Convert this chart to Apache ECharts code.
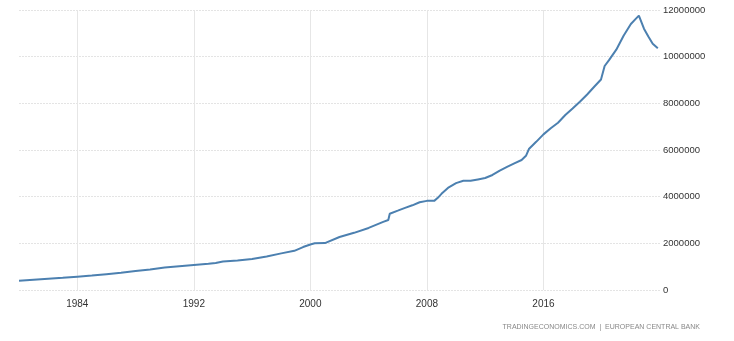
<!DOCTYPE html>
<html>
<head>
<meta charset="utf-8">
<script src="https://cdn.jsdelivr.net/npm/echarts@6/dist/echarts.min.js"></script>
<style>
html,body{margin:0;padding:0;background:#fff;}
#chart{width:734px;height:341px;}
</style>
</head>
<body>
<div id="chart"></div>
<script>
// Decimal years and values (millions of EUR -> raw units below)
const years = [1980.0,1981.0,1982.0,1983.0,1984.0,1985.0,1986.0,1987.0,1988.0,1989.0,1990.0,1991.0,1992.0,1993.0,1993.5,1994.0,1995.0,1996.0,1997.0,1998.0,1998.9,1999.0,1999.5,2000.0,2000.3,2001.0,2001.1,2002.0,2003.0,2004.0,2005.0,2005.35,2005.45,2006.0,2006.5,2007.0,2007.5,2008.0,2008.5,2008.6,2008.75,2009.0,2009.5,2010.0,2010.5,2011.0,2011.5,2012.0,2012.5,2013.0,2013.5,2014.0,2014.5,2014.8,2015.0,2015.5,2016.0,2016.5,2017.0,2017.5,2018.0,2018.5,2019.0,2019.5,2019.95,2020.2,2020.5,2021.0,2021.5,2022.0,2022.3,2022.55,2022.9,2023.2,2023.5,2023.85];
const valuesM = [0.40,0.44,0.48,0.52,0.57,0.62,0.68,0.74,0.81,0.88,0.96,1.02,1.07,1.12,1.16,1.22,1.26,1.33,1.44,1.57,1.68,1.76,1.84,1.95,2.00,2.01,2.08,2.27,2.45,2.66,2.92,3.00,3.27,3.40,3.52,3.63,3.76,3.82,3.82,3.77,3.95,4.12,4.40,4.58,4.68,4.68,4.74,4.80,4.93,5.12,5.28,5.43,5.57,5.75,6.04,6.35,6.67,6.93,7.17,7.50,7.78,8.07,8.38,8.72,9.02,9.60,9.85,10.30,10.90,11.40,11.60,11.76,11.20,10.86,10.55,10.36];
const xTickYears = [1984,1992,2000,2008,2016];
const yTicks = [0,2000000,4000000,6000000,8000000,10000000,12000000];
const sourceText = 'TRADINGECONOMICS.COM  |  EUROPEAN CENTRAL BANK';

const seriesData = years.map((y,i)=>[y, Math.round(valuesM[i]*1000000)]);

const chart = echarts.init(document.getElementById('chart'), null, {renderer:'canvas'});
chart.setOption({
  animation:false,
  backgroundColor:'#fff',
  grid:{left:19,right:74,top:10,bottom:51,containLabel:false},
  xAxis:{
    type:'value',
    min:1980,max:2024,
    axisLine:{show:false},
    axisTick:{show:false,customValues:xTickYears},
    axisLabel:{customValues:xTickYears,color:'#333',fontSize:10,fontFamily:'Liberation Sans',margin:9,
      formatter:v=>String(v)},
    splitLine:{show:true,lineStyle:{color:'#e6e6e6',width:1,type:'solid'}}
  },
  yAxis:{
    type:'value',
    position:'right',
    min:0,max:12000000,interval:2000000,
    axisLine:{show:false},
    axisTick:{show:false},
    axisLabel:{color:'#333',fontSize:9.5,fontFamily:'Liberation Sans',margin:3,align:'left',
      formatter:v=>String(v)},
    splitLine:{show:true,lineStyle:{color:'#e4e4e4',width:1,type:[2,1]}}
  },
  series:[{
    type:'line',
    data:seriesData,
    showSymbol:false,
    smooth:false,
    lineStyle:{color:'#4c80b0',width:2},
    itemStyle:{color:'#4c80b0'}
  }],
  graphic:[{
    type:'text',
    right:34, top:324,
    style:{text:sourceText,fill:'#888',fontSize:7,fontFamily:'Liberation Sans'}
  }]
});
</script>
</body>
</html>
